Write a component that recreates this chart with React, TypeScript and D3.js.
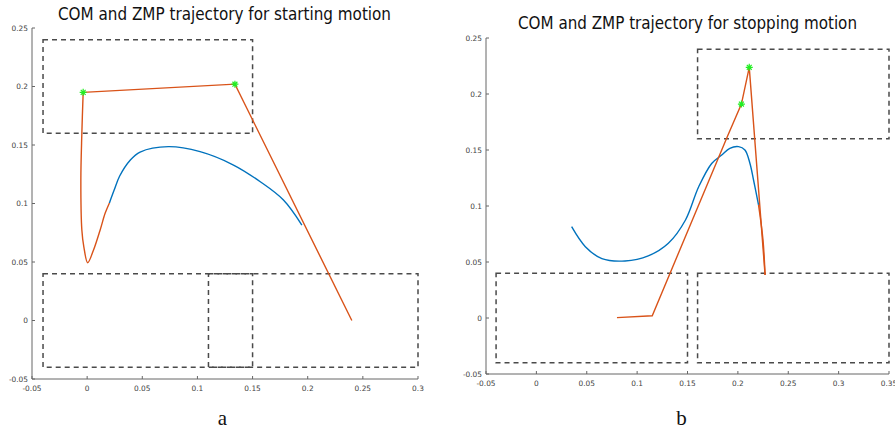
import React from "react";
import * as d3 from "d3";

type Pt = [number, number];

// ---- panel a: starting motion ----
const comStart: Pt[] = [
  [0.0202, 0.1005], [0.0245, 0.1115], [0.0295, 0.1235], [0.039, 0.137], [0.048, 0.144], [0.0737, 0.1486],
  [0.1024, 0.1443], [0.1327, 0.1329], [0.157, 0.1186], [0.178, 0.103], [0.1947, 0.0816],
];
const zmpStartLoop: Pt[] = [
  [0.0202, 0.1005], [0.0163, 0.0916], [0.0118, 0.0774], [0.0057, 0.06], [0.0005, 0.0494],
  [-0.003, 0.063], [-0.0048, 0.0774], [-0.0057, 0.12], [-0.0048, 0.16], [-0.0036, 0.195],
];
const zmpStartLine: Pt[] = [[-0.0036, 0.195], [0.134, 0.202], [0.24, 0]];
const starsStart: Pt[] = [[-0.0036, 0.195], [0.134, 0.202]];
const feetStart = [
  [-0.04, 0.15, 0.16, 0.24],
  [-0.04, 0.15, -0.04, 0.04],
  [0.11, 0.3, -0.04, 0.04],
];
const xTicksStart = [-0.05, 0, 0.05, 0.1, 0.15, 0.2, 0.25, 0.3];

// ---- panel b: stopping motion ----
const comStop: Pt[] = [
  [0.035, 0.0815], [0.0486, 0.0637], [0.065, 0.053], [0.088, 0.0509], [0.111, 0.0554],
  [0.131, 0.0667], [0.148, 0.0875], [0.161, 0.117], [0.174, 0.138], [0.184, 0.1455],
  [0.192, 0.1515], [0.2007, 0.153], [0.207, 0.15], [0.212, 0.138], [0.2156, 0.123], [0.2205, 0.101],
];
const zmpStopLine: Pt[] = [
  [0.08, 0.0003], [0.115, 0.002], [0.19, 0.163], [0.2035, 0.191], [0.2113, 0.2238], [0.227, 0.0384],
];
const zmpStopLoop: Pt[] = [[0.227, 0.0384], [0.2249, 0.07], [0.2205, 0.101]];
const starsStop: Pt[] = [[0.2035, 0.191], [0.2113, 0.2238]];
const feetStop = [
  [0.16, 0.35, 0.16, 0.24],
  [-0.04, 0.15, -0.04, 0.04],
  [0.16, 0.35, -0.04, 0.04],
];
const xTicksStop = [-0.05, 0, 0.05, 0.1, 0.15, 0.2, 0.25, 0.3, 0.35];

const yTicks = [-0.05, 0, 0.05, 0.1, 0.15, 0.2, 0.25];

const BLUE = "#0072BD";
const ORANGE = "#D95319";
const GREEN = "#22EE22";

const fmt = (v: number) => String(+v.toFixed(2));

interface PanelProps {
  title: string;
  titleY: number;
  titleX: number;
  titleW: number;
  label: string;
  labelX: number;
  xDomain: [number, number];
  xRange: [number, number];
  yRange: [number, number];
  xTicks: number[];
  curves: Pt[][];
  lines: Pt[][];
  colors: string[];
  stars: Pt[];
  feet: number[][];
}

function Panel(p: PanelProps) {
  const x = d3.scaleLinear().domain(p.xDomain).range(p.xRange);
  const y = d3.scaleLinear().domain([-0.05, 0.25]).range(p.yRange);
  const smooth = d3.line<Pt>().x((d) => x(d[0])).y((d) => y(d[1])).curve(d3.curveCatmullRom.alpha(0.5));
  const straight = d3.line<Pt>().x((d) => x(d[0])).y((d) => y(d[1]));
  const x0 = p.xRange[0];
  const yb = p.yRange[0];
  const axisColor = "#666";
  return (
    <g>
      <text x={p.titleX} y={p.titleY} textAnchor="middle" fontSize={17} fill="#111"
        textLength={p.titleW} lengthAdjust="spacingAndGlyphs">{p.title}</text>
      {p.feet.map((f, i) => (
        <rect key={i} x={x(f[0])} y={y(f[3])} width={x(f[1]) - x(f[0])} height={y(f[2]) - y(f[3])}
          fill="none" stroke="#4a4a4a" strokeWidth={1.5} strokeDasharray="5,4" />
      ))}
      {p.curves.map((c, i) => (
        <path key={"c" + i} d={smooth(c) ?? ""} fill="none" stroke={p.colors[i]} strokeWidth={1.4} />
      ))}
      {p.lines.map((c, i) => (
        <path key={"l" + i} d={straight(c) ?? ""} fill="none" stroke={ORANGE} strokeWidth={1.4} />
      ))}
      {p.stars.map((s, i) => {
        const cx = x(s[0]);
        const cy = y(s[1]);
        const r = 3.5;
        const q = r * 0.7;
        return (
          <path key={"s" + i}
            d={`M${cx - r},${cy}H${cx + r}M${cx},${cy - r}V${cy + r}M${cx - q},${cy - q}L${cx + q},${cy + q}M${cx - q},${cy + q}L${cx + q},${cy - q}`}
            stroke={GREEN} strokeWidth={1.2} />
        );
      })}
      <line x1={x0} x2={x0} y1={y(0.25)} y2={yb} stroke={axisColor} />
      <line x1={x0} x2={p.xRange[1]} y1={yb} y2={yb} stroke={axisColor} />
      {yTicks.map((t) => (
        <g key={"y" + t}>
          <line x1={x0} x2={x0 + 3} y1={y(t)} y2={y(t)} stroke={axisColor} />
          <text x={x0 - 4} y={y(t)} dy="0.35em" textAnchor="end" fontSize={7.4} fill="#444">{fmt(t)}</text>
        </g>
      ))}
      {p.xTicks.map((t) => (
        <g key={"x" + t}>
          <line x1={x(t)} x2={x(t)} y1={yb} y2={yb - 3} stroke={axisColor} />
          <text x={x(t)} y={yb + 12} textAnchor="middle" fontSize={7.4} fill="#444">{fmt(t)}</text>
        </g>
      ))}
      <text x={p.labelX} y={425} textAnchor="middle" fontSize={21}
        fontFamily="'Liberation Serif', 'DejaVu Serif', serif" fill="#111">{p.label}</text>
    </g>
  );
}

export default function App() {
  return (
    <svg width={895} height={435} style={{ position: "absolute", left: 0, top: 0, background: "#fff" }}
      fontFamily="'DejaVu Sans', 'Liberation Sans', sans-serif">
      <Panel title="COM and ZMP trajectory for starting motion" titleX={224.5} titleY={20} titleW={333}
        label="a" labelX={222.5} xDomain={[-0.05, 0.3]} xRange={[32, 418]} yRange={[379, 28]}
        xTicks={xTicksStart} curves={[comStart, zmpStartLoop]} colors={[BLUE, ORANGE]}
        lines={[zmpStartLine]} stars={starsStart} feet={feetStart} />
      <Panel title="COM and ZMP trajectory for stopping motion" titleX={687.5} titleY={29} titleW={339}
        label="b" labelX={681.5} xDomain={[-0.05, 0.35]} xRange={[486, 889]} yRange={[374, 38]}
        xTicks={xTicksStop} curves={[comStop, zmpStopLoop]} colors={[BLUE, ORANGE]}
        lines={[zmpStopLine]} stars={starsStop} feet={feetStop} />
    </svg>
  );
}
